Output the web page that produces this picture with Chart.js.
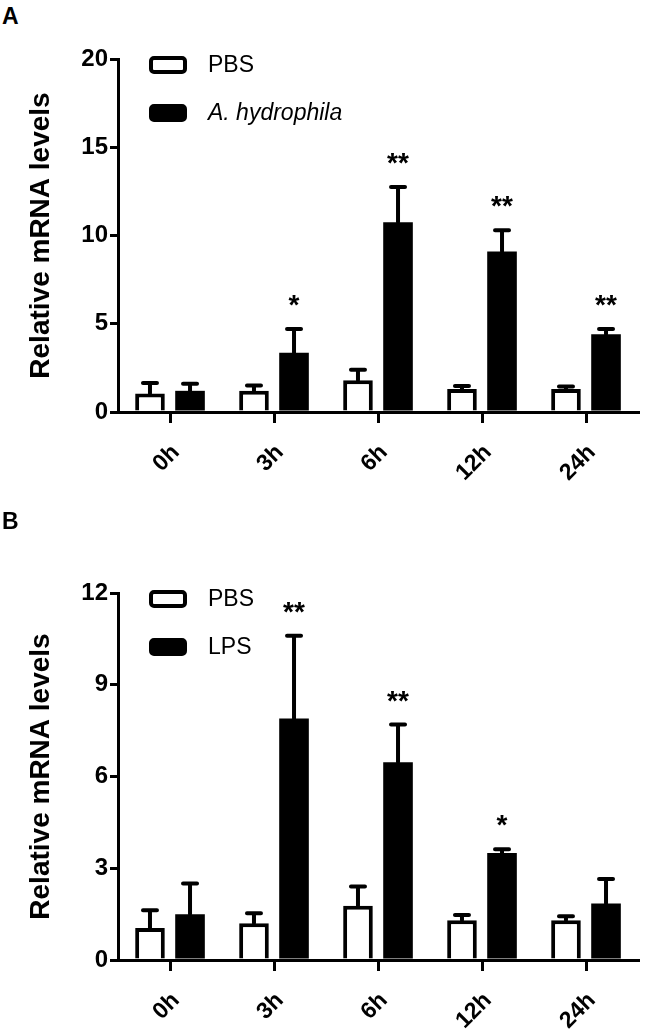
<!DOCTYPE html>
<html>
<head>
<meta charset="utf-8">
<script src="https://cdn.jsdelivr.net/npm/chart.js@4.4.1/dist/chart.umd.min.js"></script>
<style>
  body { margin: 0; background: #fff; font-family: 'Liberation Sans', Arial, sans-serif; }
  .panel { position: absolute; left: 0; width: 645px; }
  .tag { position: absolute; left: 2px; font-weight: bold; font-size: 23px; color: #000; }
</style>
</head>
<body>
<div class="tag" style="top:3px">A</div>
<div class="panel" style="top:0; height:510px"><canvas id="chartA"></canvas></div>
<div class="tag" style="top:508px">B</div>
<div class="panel" style="top:510px; height:522px"><canvas id="chartB"></canvas></div>
<script>
// ========== DATA ==========
const timePoints = ['0h', '3h', '6h', '12h', '24h'];

// Panel A: PBS vs A. hydrophila
const pbsA = [1.05, 1.2, 1.8, 1.3, 1.3];
const pbsAErr = [0.6, 0.3, 0.6, 0.17, 0.15];
const hydroA = [1.2, 3.35, 10.75, 9.1, 4.4];
const hydroAErr = [0.4, 1.35, 2.0, 1.2, 0.3];
const sigA = ['', '*', '**', '**', '**'];
const yTicksA = [0, 5, 10, 15, 20];

// Panel B: PBS vs LPS
const pbsB = [1.05, 1.2, 1.77, 1.3, 1.3];
const pbsBErr = [0.58, 0.33, 0.63, 0.17, 0.13];
const lpsB = [1.5, 7.9, 6.47, 3.5, 1.85];
const lpsBErr = [1.0, 2.7, 1.23, 0.12, 0.8];
const sigB = ['', '**', '**', '*', ''];
const yTicksB = [0, 3, 6, 9, 12];

const FONT = "'Liberation Sans', Arial, sans-serif";

// ========== PLUGINS ==========
// upward-only error bars with caps, plus significance stars over the treated bars
const errorBarPlugin = {
    id: 'errorBars',
    afterDatasetsDraw(chart) {
        const ctx = chart.ctx;
        const yScale = chart.scales.y;
        ctx.save();
        ctx.strokeStyle = '#000';
        ctx.lineWidth = 4;
        ctx.lineCap = 'round';
        chart.data.datasets.forEach((ds, di) => {
            const meta = chart.getDatasetMeta(di);
            meta.data.forEach((bar, i) => {
                const top = yScale.getPixelForValue(ds.data[i] + ds.errors[i]);
                ctx.beginPath();
                ctx.moveTo(bar.x, bar.y);
                ctx.lineTo(bar.x, top);
                ctx.moveTo(bar.x - 7, top);
                ctx.lineTo(bar.x + 7, top);
                ctx.stroke();
                if (ds.sig && ds.sig[i]) {
                    ctx.fillStyle = '#000';
                    ctx.font = 'bold 28px ' + FONT;
                    ctx.textAlign = 'center';
                    ctx.textBaseline = 'alphabetic';
                    ctx.fillText(ds.sig[i], bar.x, top - 15);
                }
            });
        });
        ctx.restore();
    }
};

// legend drawn inside the plot area, top-left, like the original
const insideLegend = {
    id: 'insideLegend',
    afterDraw(chart) {
        const ctx = chart.ctx;
        const area = chart.chartArea;
        ctx.save();
        chart.data.datasets.forEach((ds, i) => {
            const cy = area.top + 6 + i * 48;
            const x = area.left + 31;
            ctx.beginPath();
            ctx.roundRect(x + 2, cy - 7, 34, 14, 3);
            ctx.fillStyle = ds.backgroundColor;
            ctx.fill();
            ctx.lineWidth = 4;
            ctx.strokeStyle = '#000';
            ctx.stroke();
            ctx.fillStyle = '#000';
            ctx.font = (ds.italic ? 'italic ' : '') + '23px ' + FONT;
            ctx.textAlign = 'left';
            ctx.textBaseline = 'middle';
            ctx.fillText(ds.label, x + 59, cy + 1);
        });
        ctx.restore();
    }
};

// ========== CHART FACTORY ==========
function makeChart(id, ctrl, ctrlErr, trt, trtErr, trtLabel, italic, sig, yTicks, padTop, xHeight) {
    const ctx = document.getElementById(id).getContext('2d');
    return new Chart(ctx, {
        type: 'bar',
        data: {
            labels: timePoints,
            datasets: [{
                label: 'PBS',
                data: ctrl,
                errors: ctrlErr,
                backgroundColor: '#ffffff',
                borderColor: '#000000',
                borderWidth: 4,
                borderSkipped: 'start'
            }, {
                label: trtLabel,
                data: trt,
                errors: trtErr,
                sig: sig,
                italic: italic,
                backgroundColor: '#000000',
                borderWidth: 0
            }]
        },
        options: {
            responsive: true,
            maintainAspectRatio: false,
            animation: false,
            devicePixelRatio: 1,
            categoryPercentage: 0.77,
            barPercentage: 0.74,
            layout: { padding: { left: 0, right: 7, top: padTop, bottom: 0 } },
            plugins: {
                legend: { display: false },
                tooltip: { enabled: false }
            },
            scales: {
                x: {
                    grid: {
                        offset: false,
                        drawOnChartArea: false,
                        color: '#000',
                        lineWidth: 3,
                        tickLength: 11
                    },
                    border: { color: '#000', width: 3 },
                    ticks: {
                        color: '#000',
                        font: { family: FONT, size: 23, weight: 'bold' },
                        minRotation: 45,
                        maxRotation: 45,
                        padding: 16,
                        labelOffset: 6
                    },
                    afterFit: scale => { scale.height = xHeight; }
                },
                y: {
                    min: yTicks[0],
                    max: yTicks[yTicks.length - 1],
                    afterBuildTicks: scale => { scale.ticks = yTicks.map(v => ({ value: v })); },
                    grid: {
                        drawOnChartArea: false,
                        color: '#000',
                        lineWidth: 3,
                        tickLength: 8
                    },
                    border: { color: '#000', width: 3 },
                    ticks: {
                        color: '#000',
                        font: { family: FONT, size: 24, weight: 'bold' },
                        padding: 2
                    },
                    title: {
                        display: true,
                        text: 'Relative mRNA levels',
                        color: '#000',
                        font: { family: FONT, size: 28, weight: 'bold' },
                        padding: { top: 24, bottom: 0 }
                    },
                    afterFit: scale => { scale.width = 118; }
                }
            }
        },
        plugins: [errorBarPlugin, insideLegend]
    });
}

makeChart('chartA', pbsA, pbsAErr, hydroA, hydroAErr, 'A. hydrophila', true, sigA, yTicksA, 59, 98);
makeChart('chartB', pbsB, pbsBErr, lpsB, lpsBErr, 'LPS', false, sigB, yTicksB, 83, 72);
</script>
</body>
</html>
